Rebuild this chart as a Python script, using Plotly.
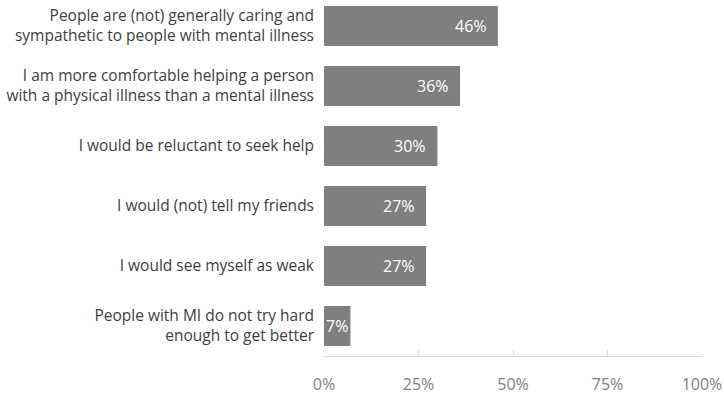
import plotly.graph_objects as go

categories = [
    "People are (not) generally caring and<br>sympathetic to people with mental illness",
    "I am more comfortable helping a person<br>with a physical illness than a mental illness",
    "I would be reluctant to seek help",
    "I would (not) tell my friends",
    "I would see myself as weak",
    "People with MI do not try hard<br>enough to get better",
]
values = [46, 36, 30, 27, 27, 7]
labels = ["46%", "36%", "30%", "27%", "27%", "7%"]
x_ticks = [0, 25, 50, 75, 100]
x_tick_text = ["0%", "25%", "50%", "75%", "100%"]

FONT = "'Open Sans', sans-serif"

fig = go.Figure()
fig.add_trace(go.Bar(
    x=values, y=categories, orientation="h",
    marker=dict(color="#7f7f7f", line=dict(width=0)),
    width=0.667, hoverinfo="skip",
))

for v, c, t in zip(values, categories, labels):
    if v > 15:
        fig.add_annotation(
            x=v, y=c, text=t, showarrow=False, xanchor="right", yanchor="middle",
            xshift=-9,
            font=dict(family=FONT, size=16, color="white"),
        )
    else:
        fig.add_annotation(
            x=v / 2, y=c, text=t, showarrow=False, xanchor="center", yanchor="middle",
            font=dict(family=FONT, size=16, color="white"),
        )

fig.update_layout(
    width=724, height=394,
    margin=dict(l=324, r=22, t=0, b=38),
    paper_bgcolor="white", plot_bgcolor="white",
    showlegend=False,
    font=dict(family=FONT),
    xaxis=dict(
        range=[0, 100], tickvals=x_ticks, ticktext=x_tick_text,
        showgrid=False, zeroline=False,
        showline=True, linecolor="#d9d9d9", linewidth=1,
        ticks="inside", ticklen=6, tickcolor="#d9d9d9",
        tickfont=dict(family=FONT, size=16, color="#7f7f7f"),
        ticklabelstandoff=14,
        fixedrange=True,
    ),
    yaxis=dict(
        categoryorder="array", categoryarray=categories,
        range=[5.5, -0.4333],
        showgrid=False, zeroline=False, showline=False,
        ticks="", ticklabelstandoff=9,
        tickfont=dict(family=FONT, size=15.5, color="#404040"),
        fixedrange=True,
    ),
)

fig.write_html("out.html")
